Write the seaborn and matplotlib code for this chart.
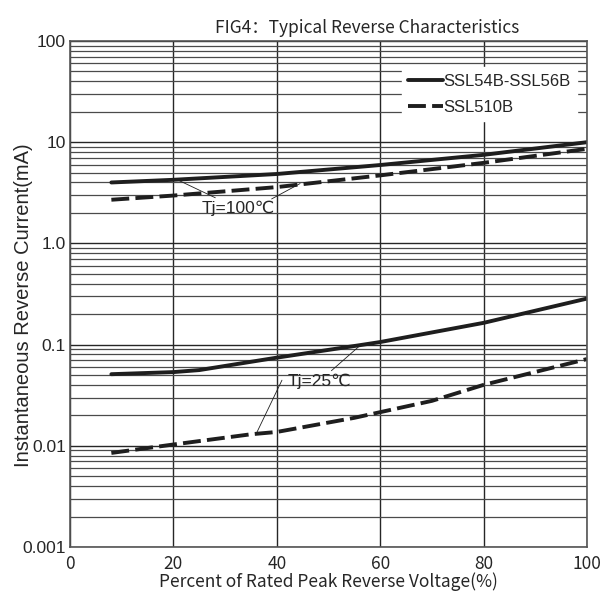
import numpy as np
import pandas as pd
import matplotlib
matplotlib.use("Agg")
import matplotlib.pyplot as plt
from matplotlib.ticker import LogLocator, FixedLocator, NullFormatter
import seaborn as sns

# values
pct_hot = [8, 20, 40, 60, 80, 100]
ssl54_hot = [4.0, 4.25, 4.85, 5.95, 7.5, 10.0]
pct_hot_b = [8, 20, 40, 60, 80, 100]
ssl510_hot = [2.7, 2.97, 3.6, 4.7, 6.25, 8.6]

pct_cold = [8, 20, 25, 40, 56, 60, 80, 100]
ssl54_cold = [0.051, 0.0535, 0.056, 0.0743, 0.0986, 0.106, 0.164, 0.285]
pct_cold_b = [8, 20, 35, 40, 55, 60, 70, 80, 100]
ssl510_cold = [0.0085, 0.0103, 0.013, 0.0137, 0.0189, 0.0215, 0.0278, 0.040, 0.072]

y_ticks = [0.001, 0.01, 0.1, 1, 10, 100]
y_tick_labels = ["0.001", "0.01", "0.1", "1.0", "10", "100"]
x_ticks = [0, 20, 40, 60, 80, 100]

sns.set_style("white")
arial = ["Liberation Sans", "DejaVu Sans"]
humanist = ["Noto Sans CJK SC", "DejaVu Sans"]
plt.rcParams["font.family"] = arial

fig = plt.figure(figsize=(6.04, 6.01), dpi=100)
ax = fig.add_axes([70 / 604, 1 - 547 / 601, 517 / 604, 506 / 601])

ink = "#1e1e1e"
dash = (4.6, 1.6)

frames = []
for x, y, name, temp in [
    (pct_hot, ssl54_hot, "SSL54B-SSL56B", "100"),
    (pct_hot_b, ssl510_hot, "SSL510B", "100"),
    (pct_cold, ssl54_cold, "SSL54B-SSL56B", "25"),
    (pct_cold_b, ssl510_cold, "SSL510B", "25"),
]:
    frames.append(pd.DataFrame({"pct": x, "current": y, "part": name, "tj": temp}))
df = pd.concat(frames, ignore_index=True)

for (part, tj), sub in df.groupby(["part", "tj"], sort=False):
    sns.lineplot(
        data=sub, x="pct", y="current", ax=ax, color=ink, linewidth=2.8,
        linestyle=(0, dash) if part == "SSL510B" else "-",
        label=part if tj == "100" else None, estimator=None, sort=True,
    )

ax.set_yscale("log")
ax.set_xlim(0, 100)
ax.set_ylim(0.001, 100)
ax.yaxis.set_major_locator(FixedLocator(y_ticks))
ax.set_yticklabels(y_tick_labels)
ax.yaxis.set_minor_locator(LogLocator(base=10, subs=np.arange(2, 10)))
ax.yaxis.set_minor_formatter(NullFormatter())
ax.xaxis.set_major_locator(FixedLocator(x_ticks))
ax.grid(True, which="major", color="#262626", linewidth=1.0)
ax.grid(True, which="minor", axis="y", color="#4a4a4a", linewidth=0.9)
ax.tick_params(axis="y", which="both", length=0, pad=3)
ax.tick_params(axis="x", which="both", length=0, pad=6)
for lab in ax.get_yticklabels():
    lab.set_fontsize(12.5)
for lab in ax.get_xticklabels():
    lab.set_fontsize(12.5)
    lab.set_family(humanist)
for side in ax.spines.values():
    side.set_color("#555555")
    side.set_linewidth(1.2)

ax.set_xlabel("Percent of Rated Peak Reverse Voltage(%)", fontsize=12.5, labelpad=-1,
              family=humanist)
ax.set_ylabel("Instantaneous Reverse Current(mA)", fontsize=14.5)
ax.yaxis.set_label_coords(-0.072, 0.478)
ax.set_title("FIG4：Typical Reverse Characteristics", fontsize=12.5, pad=6,
             family=humanist, x=0.575)

leg = ax.legend(loc="upper right", bbox_to_anchor=(0.997, 0.965), frameon=True,
                fontsize=12, handlelength=2.1, handletextpad=0.0,
                borderpad=0.4, labelspacing=0.65, fancybox=False)
leg.get_frame().set_edgecolor("white")
leg.get_frame().set_facecolor("white")
leg.get_frame().set_alpha(1)

note_font = ["Liberation Sans", "DejaVu Sans"]
line_kw = dict(arrowstyle="-", color=ink, lw=0.6, shrinkA=0, shrinkB=0)
ax.annotate("Tj=100℃", xy=(21, 4.2), xytext=(25.5, 2.2), fontsize=12.5,
            family=note_font, va="center", ha="left", arrowprops=line_kw)
ax.annotate("", xy=(44.5, 3.9), xytext=(39, 2.75), arrowprops=line_kw)
ax.annotate("Tj=25℃", xy=(56, 0.097), xytext=(42, 0.043), fontsize=12.5,
            family=note_font, va="center", ha="left", arrowprops=line_kw)
ax.annotate("", xy=(36, 0.0131), xytext=(41, 0.0445), arrowprops=line_kw)

fig.savefig("out.png", dpi=100)
